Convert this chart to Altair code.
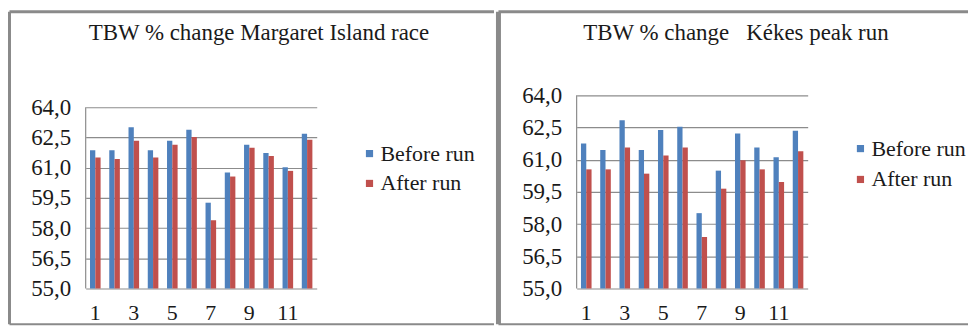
import altair as alt
import pandas as pd

categories = list(range(1, 13))
series = ["Before run", "After run"]
colors = ["#4F81BD", "#C0504D"]

margaret_before = [61.86, 61.86, 63.01, 61.86, 62.34, 62.88, 59.26, 60.76, 62.14, 61.73, 61.02, 62.68]
margaret_after = [61.51, 61.43, 62.34, 61.51, 62.14, 62.52, 58.39, 60.56, 61.99, 61.58, 60.84, 62.38]
kekes_before = [61.76, 61.45, 62.84, 61.45, 62.38, 62.53, 58.51, 60.49, 62.22, 61.57, 61.12, 62.35]
kekes_after = [60.55, 60.55, 61.57, 60.35, 61.19, 61.57, 57.40, 59.65, 60.98, 60.55, 59.96, 61.39]

y_ticks = [55.0, 56.5, 58.0, 59.5, 61.0, 62.5, 64.0]
x_label_values = [1, 3, 5, 7, 9, 11]
titles = ["TBW % change Margaret Island race", "TBW % change\u00a0\u00a0 K\u00e9kes peak run"]

FONT = "'Liberation Serif', 'Times New Roman', Times, serif"
GRID = "#8c8c8c"
BORDER = "#8a8a8a"
TXT = "#1a1a1a"


def panel(before, after, title, ymax, legend_y, row_pad, title_x, borders):
    df = pd.DataFrame({
        "runner": categories * 2,
        "series": [series[0]] * len(categories) + [series[1]] * len(categories),
        "value": before + after,
    })
    one = pd.DataFrame({"k": [0]})
    yscale = alt.Scale(domain=[55, ymax], nice=False, zero=False)
    bars = alt.Chart(df).mark_bar().encode(
        x=alt.X("runner:O", title=None,
                scale=alt.Scale(paddingInner=0.45, paddingOuter=0.225),
                axis=alt.Axis(values=x_label_values, labelAngle=0, domain=False, ticks=False,
                              grid=False, labelFont=FONT, labelFontSize=22, labelColor=TXT,
                              labelPadding=14, labelOverlap=False, tickCount=12)),
        xOffset=alt.XOffset("series:N", scale=alt.Scale(domain=series, paddingInner=0)),
        y=alt.Y("value:Q", title=None, scale=yscale,
                axis=alt.Axis(values=y_ticks, tickCount=len(y_ticks),
                              labelExpr="replace(format(datum.value, '.1f'), '.', ',')",
                              domain=False, ticks=False, grid=True, gridColor=GRID, gridWidth=1.2,
                              gridOpacity=1, labelFont=FONT, labelFontSize=23, labelColor=TXT,
                              labelPadding=15, labelOverlap=False, labelBound=False)),
        y2=alt.datum(55),
        color=alt.Color("series:N", scale=alt.Scale(domain=series, range=colors),
                        legend=alt.Legend(orient="none", legendX=274, legendY=legend_y, title=None,
                                          symbolType="square", symbolSize=52, symbolStrokeWidth=0,
                                          labelFont=FONT, labelFontSize=22, labelColor=TXT,
                                          rowPadding=row_pad, labelOffset=0, padding=0)),
    )
    axis_line = alt.Chart(one).mark_rule(color=GRID, strokeWidth=1.2).encode(
        x=alt.value(0),
        y=alt.Y(datum=55, type="quantitative"),
        y2=alt.Y2(datum=64),
    )
    title_mark = alt.Chart(one).mark_text(
        text=title, font=FONT, fontSize=23, color=TXT, align="center", baseline="middle"
    ).encode(x=alt.value(title_x), y=alt.value(-63))
    layers = [bars, axis_line, title_mark]
    for (x1, x2, y1, y2, w) in borders:
        enc = {"x": alt.value(x1), "y": alt.value(y1)}
        if x2 is not None:
            enc["x2"] = alt.value(x2)
        if y2 is not None:
            enc["y2"] = alt.value(y2)
        layers.append(alt.Chart(one).mark_rule(color=BORDER, strokeWidth=w).encode(**enc))
    return alt.layer(*layers).properties(width=232, height=194)


left = panel(
    margaret_before, margaret_after, titles[0], 64.593, 47.5, 8, 174,
    [(-76.5, 410, -84, None, 3), (-76.5, None, -84, 230, 3), (-76.5, 410, 230, None, 2)],
)
right = panel(
    kekes_before, kekes_after, titles[1], 64.0, 42.5, 9, 160,
    [(-78.5, 393, -84, None, 3), (-78.5, None, -84, 230, 5), (-78.5, 393, 230, None, 2)],
)

chart = alt.hconcat(left, right, spacing=0).resolve_legend(color="independent").properties(
    padding={"left": 0, "top": 0, "right": 0, "bottom": 0}
).configure_view(stroke=None)

chart.save("out.html", embed_options={"renderer": "svg", "actions": False})
